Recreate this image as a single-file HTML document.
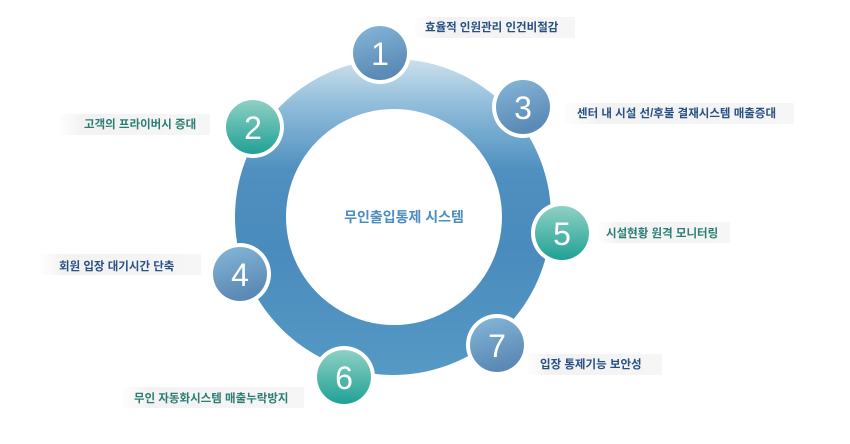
<!DOCTYPE html>
<html><head><meta charset="utf-8"><style>
html,body{margin:0;padding:0;background:#fff;width:850px;height:444px;overflow:hidden}
svg text{font-family:"Liberation Sans","Noto Sans CJK KR",sans-serif}
</style></head><body>
<svg width="850" height="444" viewBox="0 0 850 444" xmlns="http://www.w3.org/2000/svg">
<defs>
<linearGradient id="ring" x1="0" y1="0" x2="0" y2="1">
<stop offset="0" stop-color="#cde0ec"/><stop offset="0.15" stop-color="#8fbcda"/><stop offset="0.35" stop-color="#4f90c0"/><stop offset="0.6" stop-color="#4a8bbd"/><stop offset="1" stop-color="#5599c4"/></linearGradient>
<linearGradient id="blue" x1="0" y1="0" x2="0.3" y2="1">
<stop offset="0" stop-color="#86b6d8"/><stop offset="1" stop-color="#5a8ab5"/></linearGradient>
<linearGradient id="teal" x1="0" y1="0" x2="0" y2="1">
<stop offset="0" stop-color="#8fd0c4"/><stop offset="1" stop-color="#20a195"/></linearGradient>
<linearGradient id="lab" x1="0" y1="0" x2="1" y2="0">
<stop offset="0" stop-color="#f6f6f6" stop-opacity="0.2"/><stop offset="0.15" stop-color="#f2f2f2"/><stop offset="1" stop-color="#f6f6f6"/></linearGradient>
</defs>
<path fill-rule="evenodd" fill="url(#ring)" d="M393,59 a158,158 0 1,0 0.01,0 Z M394,109 a108,108 0 1,1 -0.01,0 Z"/>
<text x="404" y="222" font-size="14" fill="#4a8dbf" font-weight="bold" text-anchor="middle">무인출입통제 시스템</text>
<g>
<circle cx="380" cy="53" r="31" fill="#fff"/><circle cx="380" cy="53" r="27" fill="url(#blue)"/>
<circle cx="253" cy="127" r="31" fill="#fff"/><circle cx="253" cy="127" r="27" fill="url(#teal)"/>
<circle cx="523" cy="107" r="31" fill="#fff"/><circle cx="523" cy="107" r="27" fill="url(#blue)"/>
<circle cx="240" cy="274" r="31" fill="#fff"/><circle cx="240" cy="274" r="27" fill="url(#blue)"/>
<circle cx="562" cy="233" r="31" fill="#fff"/><circle cx="562" cy="233" r="27" fill="url(#teal)"/>
<circle cx="344" cy="377" r="31" fill="#fff"/><circle cx="344" cy="377" r="27" fill="url(#teal)"/>
<circle cx="497" cy="345" r="31" fill="#fff"/><circle cx="497" cy="345" r="27" fill="url(#blue)"/>
</g>
<g font-size="32" fill="#fff" text-anchor="middle">
<text x="380" y="65">1</text><text x="253" y="139">2</text><text x="523" y="119">3</text>
<text x="240" y="286">4</text><text x="562" y="245">5</text><text x="344" y="389">6</text><text x="497" y="357">7</text>
</g>
<g>
<rect x="415" y="17" width="160" height="21" fill="url(#lab)"/>
<rect x="60" y="114" width="150" height="21" fill="url(#lab)"/>
<rect x="565" y="103" width="229" height="21" fill="url(#lab)"/>
<rect x="41" y="254" width="160" height="21" fill="url(#lab)"/>
<rect x="599" y="222" width="131" height="21" fill="url(#lab)"/>
<rect x="122" y="387" width="182" height="21" fill="url(#lab)"/>
<rect x="528" y="354" width="134" height="21" fill="url(#lab)"/>
</g>
<g font-size="11.5" font-weight="bold">
<text x="425" y="31" fill="#264f84">효율적 인원관리 인건비절감</text>
<text x="84" y="128" fill="#2b7d74">고객의 프라이버시 증대</text>
<text x="577" y="117" fill="#264f84">센터 내 시설 선/후불 결재시스템 매출증대</text>
<text x="59" y="270" fill="#264f84">회원 입장 대기시간 단축</text>
<text x="606" y="237" fill="#2b7d74">시설현황 원격 모니터링</text>
<text x="134" y="402" fill="#2b7d74">무인 자동화시스템 매출누락방지</text>
<text x="540" y="368" fill="#264f84">입장 통제기능 보안성</text>
</g>
</svg>
</body></html>
